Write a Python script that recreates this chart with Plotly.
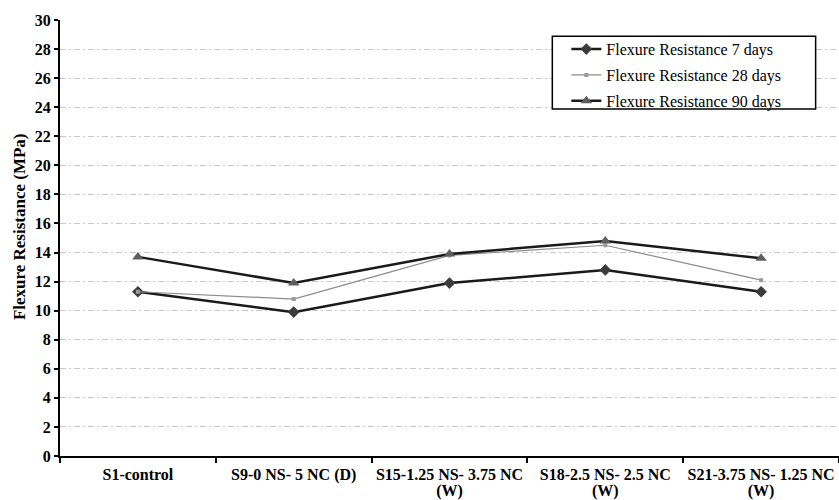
import plotly.graph_objects as go

categories = ["S1-control", "S9-0 NS- 5 NC (D)", "S15-1.25 NS- 3.75 NC<br>(W)",
              "S18-2.5 NS- 2.5 NC<br>(W)", "S21-3.75 NS- 1.25 NC<br>(W)"]
days7 = [11.3, 9.9, 11.9, 12.8, 11.3]
days28 = [11.3, 10.8, 13.8, 14.5, 12.1]
days90 = [13.7, 11.9, 13.9, 14.8, 13.6]
names = ["Flexure Resistance 7 days", "Flexure Resistance 28 days", "Flexure Resistance 90 days"]
y_title = "Flexure Resistance (MPa)"
y_ticks = list(range(0, 31, 2))

FONT = "Liberation Serif, Times New Roman, serif"

# tick labels drawn at 16px glyph size with a tighter (12px-based) line spacing
tick_text = ["<br>".join('<span style="font-size:16px">%s</span>' % part for part in c.split("<br>"))
             for c in categories]

fig = go.Figure()
fig.add_trace(go.Scatter(x=categories, y=days7, name=names[0], mode="lines+markers",
                         legendgroup="a",
                         line=dict(color="#1a1a1a", width=2.5),
                         marker=dict(symbol="diamond", size=9, color="#3c3c3c")))
fig.add_trace(go.Scatter(x=categories, y=days28, name=names[1], mode="lines+markers",
                         legendgroup="b",
                         line=dict(color="#8c8c8c", width=1.2),
                         marker=dict(symbol="square", size=4, color="#9a9a9a")))
fig.add_trace(go.Scatter(x=categories, y=days90, name=names[2], mode="lines+markers",
                         legendgroup="c",
                         line=dict(color="#1a1a1a", width=2.5),
                         marker=dict(symbol="triangle-up", size=10, color="#5e5e5e")))

# legend frame (plot area: x 60..839, y 20..456)
fig.add_shape(type="rect", xref="paper", yref="paper",
              x0=0.632, x1=0.970, y0=0.796, y1=0.963,
              line=dict(color="black", width=1.5), fillcolor="white", layer="above")

fig.add_annotation(text=y_title, xref="paper", yref="paper",
                   x=-0.0526, y=0.525, textangle=-90, showarrow=False,
                   xanchor="center", yanchor="middle",
                   font=dict(family=FONT, size=17, color="black", weight="bold"))

fig.update_layout(
    width=839, height=500,
    margin=dict(l=60, r=0, t=20, b=44),
    paper_bgcolor="white", plot_bgcolor="white",
    font=dict(family=FONT, color="black"),
    showlegend=True,
    legend=dict(x=0.650, y=0.972, xanchor="left", yanchor="top",
                bgcolor="rgba(0,0,0,0)", borderwidth=0,
                font=dict(family=FONT, size=16, color="black"),
                traceorder="grouped", tracegroupgap=2),
    xaxis=dict(type="category", range=[-0.5, 4.5], showgrid=False,
               showline=True, linecolor="black", linewidth=2,
               ticks="outside", tickson="boundaries", ticklen=5, tickcolor="black", tickwidth=1.5,
               tickangle=0, automargin=False,
               tickmode="array", tickvals=categories, ticktext=tick_text,
               tickfont=dict(family=FONT, size=12, color="black", weight="bold"),
               ticklabelstandoff=8),
    yaxis=dict(range=[0, 30], tickmode="array", tickvals=y_ticks,
               ticktext=[str(v) for v in y_ticks],
               showline=True, linecolor="black", linewidth=2,
               ticks="outside", ticklen=4, tickcolor="black", tickwidth=1.5,
               showgrid=True, gridcolor="#c8c8c8", gridwidth=1, griddash="6px,3px,2px,3px",
               zeroline=False, automargin=False,
               tickfont=dict(family=FONT, size=16, color="black", weight="bold")),
)

fig.write_html("out.html")
